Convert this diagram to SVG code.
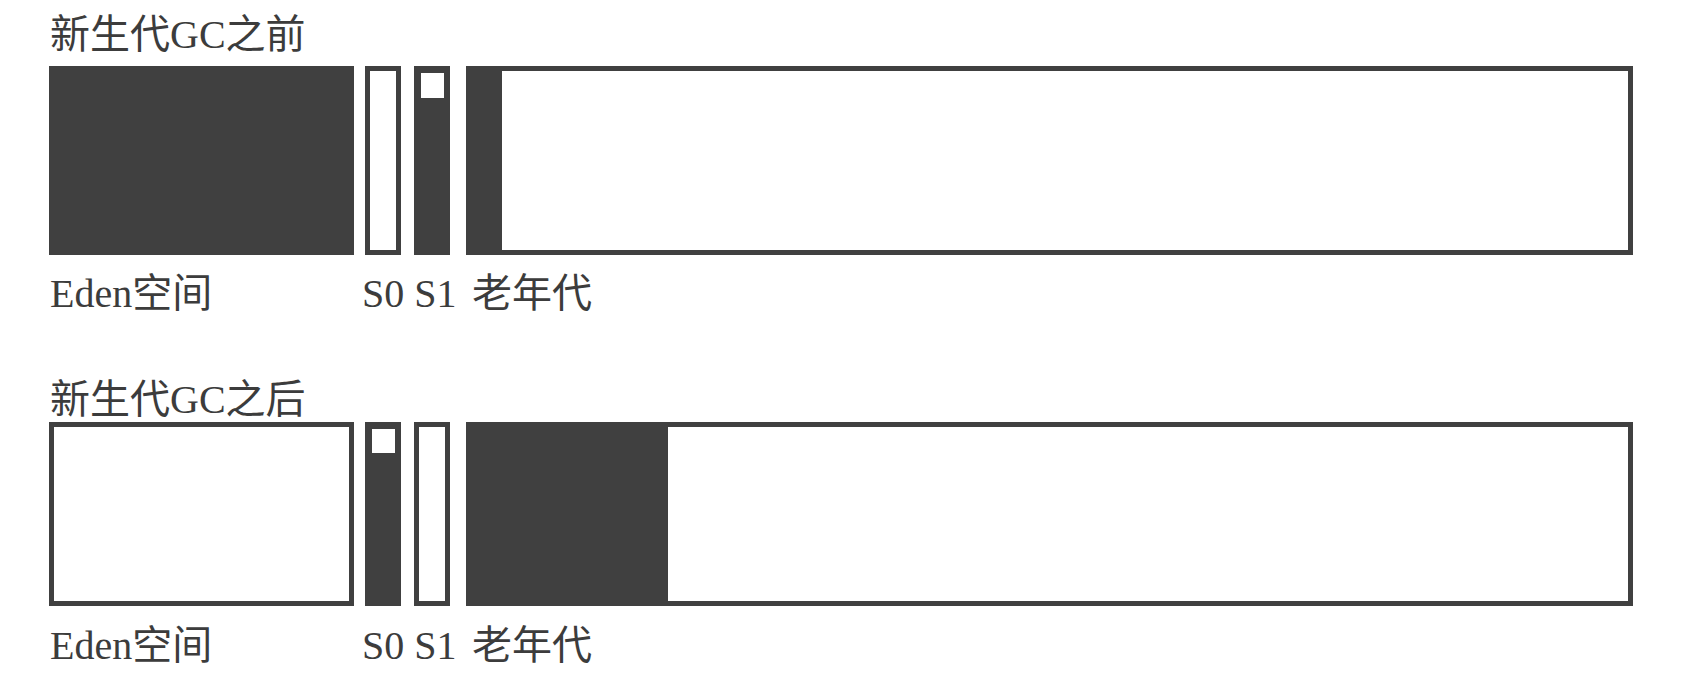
<svg xmlns="http://www.w3.org/2000/svg" width="1700" height="686" viewBox="0 0 1700 686">
<style>
.t{font-family:"Liberation Serif","Noto Sans CJK SC",serif;font-size:40px;fill:#3c3c3c}
.o{fill:#ffffff;stroke:#404040;stroke-width:5}
.d{fill:#404040;stroke:#404040;stroke-width:5}
.w{fill:#ffffff}
</style>
<rect width="1700" height="686" fill="#ffffff"/>
<g id="before">
<text class="t" x="50" y="48">新生代GC之前</text>
<g id="eden1"><rect class="d" x="51.5" y="68.5" width="300" height="184"/></g>
<g id="s0-1"><rect class="o" x="367.5" y="68.5" width="31" height="184"/></g>
<g id="s1-1"><rect class="d" x="416.5" y="68.5" width="31" height="184"/><rect class="w" x="421" y="73" width="23" height="25"/></g>
<g id="old1"><rect class="o" x="468.5" y="68.5" width="1162" height="184"/><rect fill="#404040" x="466" y="66" width="36" height="189"/></g>
<text class="t" x="50" y="307">Eden空间</text>
<text class="t" x="362" y="307">S0 S1</text>
<text class="t" x="472" y="307">老年代</text>
</g>
<g id="after">
<text class="t" x="50" y="413">新生代GC之后</text>
<g id="eden2"><rect class="o" x="51.5" y="424.5" width="300" height="179"/></g>
<g id="s0-2"><rect class="d" x="367.5" y="424.5" width="31" height="179"/><rect class="w" x="372" y="429" width="23" height="24"/></g>
<g id="s1-2"><rect class="o" x="416.5" y="424.5" width="31" height="179"/></g>
<g id="old2"><rect class="o" x="468.5" y="424.5" width="1162" height="179"/><rect fill="#404040" x="466" y="422" width="202" height="184"/></g>
<text class="t" x="50" y="659">Eden空间</text>
<text class="t" x="362" y="659">S0 S1</text>
<text class="t" x="472" y="659">老年代</text>
</g>
<g id="connectors"/>
</svg>
